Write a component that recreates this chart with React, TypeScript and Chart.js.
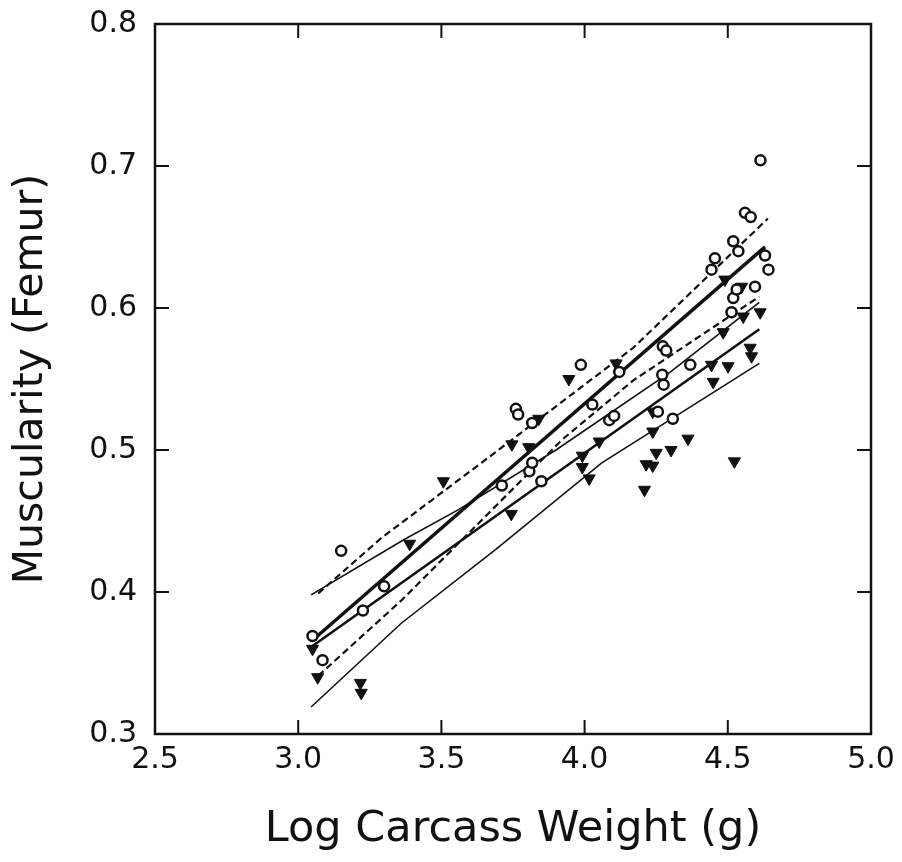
import React, { useEffect, useRef } from "react";
import { Chart, registerables } from "chart.js";

Chart.register(...registerables);

const xTicks = [2.5, 3.0, 3.5, 4.0, 4.5, 5.0];
const yTicks = [0.3, 0.4, 0.5, 0.6, 0.7, 0.8];

// Open circles
const circleX = [3.05, 3.085, 3.15, 3.226, 3.3, 3.711, 3.76, 3.768, 3.817, 3.807, 3.817, 3.849, 3.987, 4.027, 4.086, 4.103, 4.121, 4.256, 4.271, 4.276, 4.273, 4.285, 4.308, 4.369, 4.443, 4.455, 4.513, 4.519, 4.519, 4.531, 4.537, 4.56, 4.58, 4.595, 4.614, 4.63, 4.642];
const circleY = [0.369, 0.352, 0.429, 0.387, 0.404, 0.475, 0.529, 0.525, 0.519, 0.485, 0.491, 0.478, 0.56, 0.532, 0.521, 0.524, 0.555, 0.527, 0.553, 0.546, 0.573, 0.57, 0.522, 0.56, 0.627, 0.635, 0.597, 0.607, 0.647, 0.613, 0.64, 0.667, 0.664, 0.615, 0.704, 0.637, 0.627];

// Filled down triangles
const triX = [3.05, 3.068, 3.217, 3.22, 3.389, 3.507, 3.746, 3.805, 3.744, 3.84, 3.945, 3.992, 3.992, 4.016, 4.051, 4.11, 4.209, 4.215, 4.238, 4.238, 4.238, 4.25, 4.302, 4.361, 4.443, 4.449, 4.501, 4.523, 4.578, 4.583, 4.49, 4.484, 4.554, 4.548, 4.613];
const triY = [0.36, 0.34, 0.336, 0.329, 0.434, 0.478, 0.504, 0.502, 0.455, 0.522, 0.55, 0.496, 0.488, 0.48, 0.506, 0.561, 0.472, 0.49, 0.489, 0.527, 0.513, 0.498, 0.5, 0.508, 0.56, 0.548, 0.559, 0.492, 0.572, 0.566, 0.62, 0.583, 0.594, 0.615, 0.597];

// Fitted lines and bands
const circleFitX = [3.05, 4.63];
const circleFitY = [0.366, 0.643];
const circleUpperX = [3.07, 3.29, 3.64, 4.17, 4.64];
const circleUpperY = [0.399, 0.438, 0.491, 0.572, 0.663];
const circleLowerX = [3.07, 3.36, 3.92, 4.17, 4.61];
const circleLowerY = [0.341, 0.394, 0.507, 0.549, 0.608];
const triFitX = [3.05, 4.61];
const triFitY = [0.362, 0.585];
const triUpperX = [3.045, 3.37, 3.56, 3.9, 4.3, 4.61];
const triUpperY = [0.398, 0.437, 0.458, 0.5, 0.555, 0.604];
const triLowerX = [3.045, 3.36, 3.69, 4.06, 4.61];
const triLowerY = [0.319, 0.378, 0.43, 0.491, 0.561];

const pts = (xs: number[], ys: number[]) => xs.map((x, i) => ({ x, y: ys[i] }));

const INK = "#111";

const framePlugin = {
  id: "frame",
  afterDatasetsDraw(chart: any) {
    const { ctx, chartArea, scales } = chart;
    const { left, right, top, bottom } = chartArea;
    const x = scales.x;
    const y = scales.y;
    ctx.save();
    ctx.strokeStyle = INK;
    ctx.lineWidth = 2.5;
    ctx.strokeRect(left, top, right - left, bottom - top);
    ctx.lineWidth = 2;
    ctx.beginPath();
    xTicks.forEach((v) => {
      const px = x.getPixelForValue(v);
      ctx.moveTo(px, bottom);
      ctx.lineTo(px, bottom - 14);
      ctx.moveTo(px, top);
      ctx.lineTo(px, top + 14);
    });
    yTicks.forEach((v) => {
      const py = y.getPixelForValue(v);
      ctx.moveTo(left, py);
      ctx.lineTo(left + 14, py);
      ctx.moveTo(right, py);
      ctx.lineTo(right - 14, py);
    });
    ctx.stroke();
    ctx.restore();
  },
};

export default function App() {
  const ref = useRef<HTMLCanvasElement | null>(null);
  useEffect(() => {
    if (!ref.current) return;
    const lineDs = (label: string, xs: number[], ys: number[], width: number, dash: number[]) => ({
      label,
      data: pts(xs, ys),
      showLine: true,
      borderColor: INK,
      borderWidth: width,
      borderDash: dash,
      pointRadius: 0,
      fill: false,
      tension: 0,
    });
    const chart = new Chart(ref.current, {
      type: "scatter",
      data: {
        datasets: [
          {
            label: "circles",
            data: pts(circleX, circleY),
            pointStyle: "circle",
            pointRadius: 5,
            borderWidth: 2.5,
            borderColor: INK,
            backgroundColor: "#fff",
          },
          {
            label: "triangles",
            data: pts(triX, triY),
            pointStyle: "triangle",
            rotation: 180,
            pointRadius: 7,
            borderWidth: 1,
            borderColor: INK,
            backgroundColor: INK,
          },
          lineDs("circleFit", circleFitX, circleFitY, 3.5, []),
          lineDs("circleUpper", circleUpperX, circleUpperY, 2.2, [7, 4]),
          lineDs("circleLower", circleLowerX, circleLowerY, 2.2, [7, 4]),
          lineDs("triFit", triFitX, triFitY, 2.6, []),
          lineDs("triUpper", triUpperX, triUpperY, 1.6, []),
          lineDs("triLower", triLowerX, triLowerY, 1.6, []),
        ] as any,
      },
      options: {
        animation: false,
        responsive: false,
        layout: { padding: { left: 0, right: 31, top: 24, bottom: 0 } },
        plugins: { legend: { display: false }, tooltip: { enabled: false } },
        scales: {
          x: {
            type: "linear",
            min: 2.5,
            max: 5.0,
            afterBuildTicks: (s: any) => {
              s.ticks = xTicks.map((v) => ({ value: v }));
            },
            afterFit: (s: any) => {
              s.height = 128;
              s.paddingLeft = 0;
              s.paddingRight = 0;
            },
            grid: { display: false, drawTicks: false },
            border: { display: false },
            ticks: {
              padding: 8,
              color: INK,
              font: { family: "DejaVu Sans", size: 30 },
              maxRotation: 0,
              callback: (v: any) => Number(v).toFixed(1),
            },
            title: {
              display: true,
              text: "Log Carcass Weight (g)",
              color: INK,
              font: { family: "DejaVu Sans", size: 43, lineHeight: 1 },
              padding: { top: 0, bottom: 11 },
            },
          },
          y: {
            type: "linear",
            min: 0.3,
            max: 0.8,
            afterBuildTicks: (s: any) => {
              s.ticks = yTicks.map((v) => ({ value: v }));
            },
            afterFit: (s: any) => {
              s.width = 155;
              s.paddingTop = 0;
              s.paddingBottom = 0;
            },
            grid: { display: false, drawTicks: false },
            border: { display: false },
            ticks: {
              padding: 18,
              color: INK,
              font: { family: "DejaVu Sans", size: 30 },
              callback: (v: any) => Number(v).toFixed(1),
            },
            title: {
              display: true,
              text: "Muscularity (Femur)",
              color: INK,
              font: { family: "DejaVu Sans", size: 41, lineHeight: 1 },
              padding: { top: 11, bottom: 0 },
            },
          },
        },
      },
      plugins: [framePlugin],
    });
    return () => chart.destroy();
  }, []);
  return (
    <div style={{ position: "absolute", left: 0, top: 0, width: 902, height: 862, background: "#fff" }}>
      <canvas ref={ref} width={902} height={862} />
    </div>
  );
}
